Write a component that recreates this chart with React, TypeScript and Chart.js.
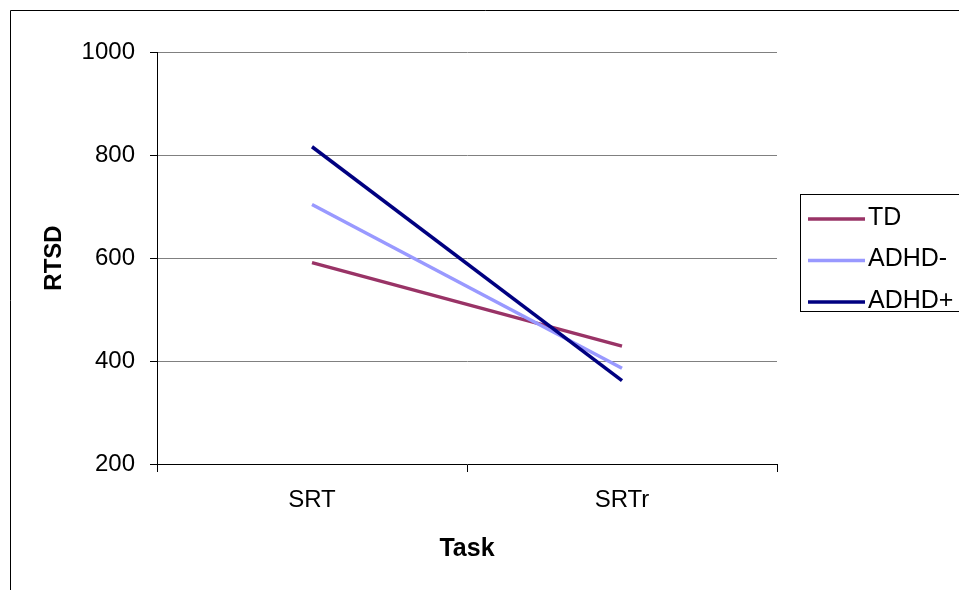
import React, { useEffect, useRef } from "react";
import { Chart, registerables } from "chart.js";

Chart.register(...registerables);

const categories = ["SRT", "SRTr"];
const tdValues = [591, 429];
const adhdMinusValues = [704, 386];
const adhdPlusValues = [816, 362];
const seriesNames = ["TD", "ADHD-", "ADHD+"];
const seriesColors = ["#993366", "#9999FF", "#000080"];
const yMin = 200;
const yMax = 1000;
const yStep = 200;
const xTitle = "Task";
const yTitle = "RTSD";

const FONT = '"Liberation Sans", Arial, sans-serif';

const framePlugin = {
  id: "frameAndLegend",
  afterDraw(chart: any) {
    const ctx = chart.ctx as CanvasRenderingContext2D;
    ctx.save();
    // outer chart frame (only left and top edges visible)
    ctx.strokeStyle = "#000";
    ctx.lineWidth = 1;
    ctx.beginPath();
    ctx.moveTo(10.5, 600);
    ctx.lineTo(10.5, 10.5);
    ctx.lineTo(970, 10.5);
    ctx.stroke();
    // legend box
    ctx.strokeRect(800.5, 194.5, 200, 117);
    chart.data.datasets.forEach((ds: any, i: number) => {
      const y = 219 + i * 41.5;
      ctx.strokeStyle = ds.borderColor;
      ctx.lineWidth = 3.5;
      ctx.lineCap = "butt";
      ctx.beginPath();
      ctx.moveTo(808, y);
      ctx.lineTo(865, y);
      ctx.stroke();
      ctx.fillStyle = "#000";
      ctx.font = `25px ${FONT}`;
      ctx.textBaseline = "middle";
      ctx.textAlign = "left";
      ctx.fillText(ds.label, 868, y - 1);
    });
    ctx.restore();
  },
};

export default function App() {
  const ref = useRef<HTMLCanvasElement>(null);
  useEffect(() => {
    if (!ref.current) return;
    const values = [tdValues, adhdMinusValues, adhdPlusValues];
    const chart = new Chart(ref.current, {
      type: "line",
      data: {
        labels: categories,
        datasets: seriesNames.map((name, i) => ({
          label: name,
          data: values[i],
          borderColor: seriesColors[i],
          backgroundColor: seriesColors[i],
          borderWidth: 3.5,
          pointRadius: 0,
          tension: 0,
          fill: false,
          order: 2 - i,
        })),
      },
      options: {
        responsive: false,
        animation: false,
        devicePixelRatio: 1,
        layout: { padding: { left: 10, top: 52, right: 182, bottom: 0 } },
        plugins: { legend: { display: false }, tooltip: { enabled: false } },
        scales: {
          x: {
            type: "category",
            offset: true,
            afterFit: (s: any) => {
              s.height = 126;
            },
            grid: {
              offset: true,
              color: (c: any) => (c.index === 2 ? "#808080" : "rgba(0,0,0,0)"),
              tickColor: "#000",
              tickLength: 8,
              lineWidth: 1,
            },
            border: { color: "#000", width: 1 },
            ticks: {
              color: "#000",
              font: { family: FONT, size: 24 },
              padding: 14,
              maxRotation: 0,
            },
            title: {
              display: true,
              text: xTitle,
              color: "#000",
              font: { family: FONT, size: 25, weight: "bold" },
              padding: { top: 0, bottom: 26 },
            },
          },
          y: {
            min: yMin,
            max: yMax,
            afterFit: (s: any) => {
              s.width = 147;
            },
            grid: {
              color: (c: any) => (c.index === 0 ? "rgba(0,0,0,0)" : "#808080"),
              tickColor: "#000",
              tickLength: 7,
              lineWidth: 1,
            },
            border: { color: "#000", width: 1 },
            ticks: {
              stepSize: yStep,
              color: "#000",
              font: { family: FONT, size: 24 },
              padding: 15,
              callback: (v: any) => String(v),
            },
            title: {
              display: true,
              text: yTitle,
              color: "#000",
              font: { family: FONT, size: 24, weight: "bold" },
              padding: { top: 30, bottom: 0 },
            },
          },
        },
      },
      plugins: [framePlugin],
    });
    return () => chart.destroy();
  }, []);
  return (
    <div style={{ position: "absolute", left: 0, top: 0, width: 959, height: 590, background: "#fff" }}>
      <canvas ref={ref} width={959} height={590} style={{ display: "block" }} />
    </div>
  );
}
